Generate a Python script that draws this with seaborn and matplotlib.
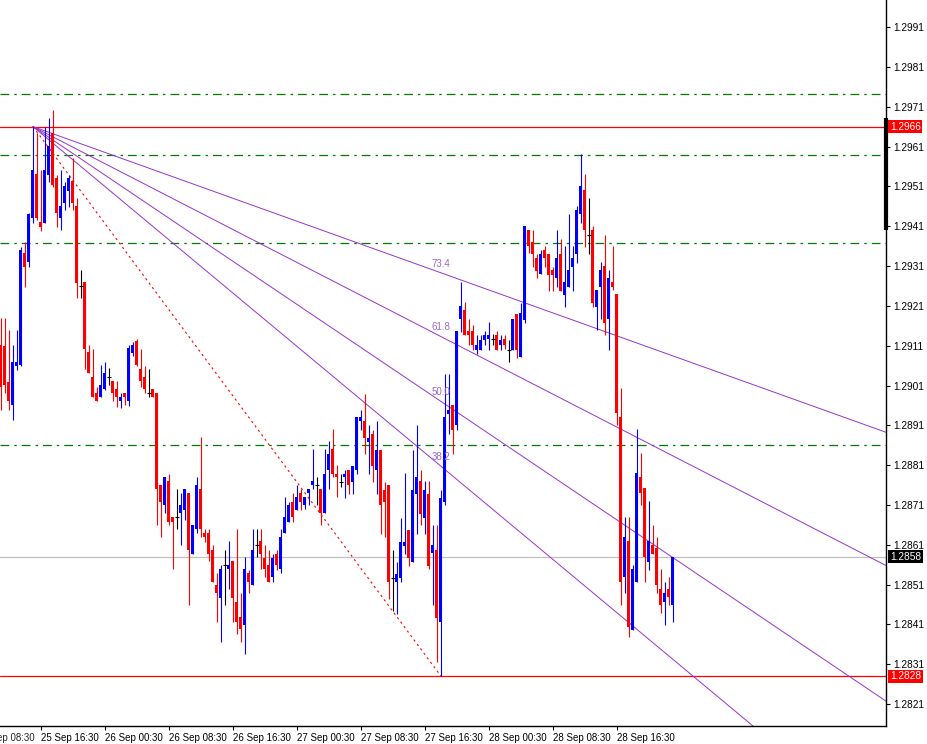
import numpy as np
import pandas as pd
import seaborn as sns
import matplotlib
matplotlib.use('Agg')
import matplotlib.pyplot as plt
import matplotlib.transforms as mtransforms

# prices in pips above 1.2800 (30 min candles, first one 25 Sep 11:30)
BASE = 1.28
PIP = 0.0001

open_p = [111.2, 110.8, 102.0, 96.1, 105.8, 106.2, 134.2, 131.9, 143.0, 154.1,
          142.0, 141.9, 153.9, 164.3, 153.0, 143.0, 146.9, 149.9, 152.4, 146.1,
          126.0, 127.1, 109.3, 103.2, 99.2, 98.0, 100.1, 103.2, 102.2, 100.1,
          97.0, 99.1, 97.0, 109.1, 112.2, 105.1, 103.2, 99.2, 100.1, 99.2,
          76.0, 71.0, 77.0, 67.9, 67.9, 68.9, 69.7, 73.9, 58.8, 64.9,
          74.9, 63.9, 63.9, 59.8, 50.9, 47.7, 55.9, 54.8, 56.9, 46.7,
          42.9, 40.8, 53.8, 50.9, 60.9, 62.0, 57.8, 55.9, 52.8, 58.8,
          54.8, 63.9, 66.8, 71.8, 69.7, 73.9, 71.0, 73.9, 76.0, 76.0,
          74.9, 68.9, 79.9, 85.0, 78.9, 76.8, 77.9, 79.9, 76.8, 79.9,
          92.0, 92.0, 86.8, 88.9, 79.9, 84.9, 74.8, 75.9, 52.7, 51.7,
          52.7, 60.6, 64.8, 56.7, 73.8, 77.0, 67.8, 73.8, 58.9, 59.6,
          41.6, 71.7, 93.9, 96.0, 91.0, 117.8, 119.9, 114.8, 114.8, 109.8,
          109.8, 112.3, 112.7, 112.7, 113.6, 111.1, 112.7, 109.8, 109.8, 119.0,
          108.2, 117.4, 140.0, 137.1, 132.9, 128.9, 135.0, 134.0, 130.0, 127.9,
          134.0, 123.7, 125.8, 130.8, 133.9, 144.0, 150.0, 138.8, 140.0, 120.8,
          125.8, 131.0, 117.8, 126.9, 123.9, 93.0, 52.8, 61.9, 39.6, 51.7,
          78.1, 75.2, 56.7, 60.9, 60.1, 49.8, 46.7, 49.8, 45.9]
high_p = [117.9, 117.9, 115.0, 111.2, 115.0, 135.9, 137.1, 144.2, 166.0, 164.3,
          155.1, 166.0, 168.1, 170.2, 153.9, 155.1, 152.2, 153.9, 158.1, 148.0,
          130.0, 127.1, 111.2, 110.1, 100.7, 106.2, 107.0, 105.3, 102.2, 102.2,
          99.1, 99.1, 111.2, 112.0, 112.6, 110.1, 105.8, 105.1, 100.1, 99.2,
          76.0, 78.1, 78.9, 67.9, 74.9, 73.9, 74.9, 73.9, 65.9, 78.1,
          88.1, 64.9, 64.9, 60.9, 53.8, 55.9, 59.8, 62.0, 56.9, 64.9,
          48.8, 58.0, 54.6, 64.9, 64.9, 64.9, 60.9, 59.8, 58.8, 59.8,
          64.9, 73.1, 71.8, 73.9, 76.0, 74.9, 73.1, 74.9, 85.0, 78.1,
          74.9, 85.0, 87.0, 90.0, 81.0, 78.9, 79.9, 79.9, 80.9, 93.1,
          94.9, 98.9, 91.0, 89.9, 92.0, 84.9, 76.8, 75.9, 59.6, 56.7,
          67.8, 79.0, 64.8, 84.9, 91.0, 79.9, 77.0, 77.0, 65.9, 65.9,
          74.8, 104.0, 104.0, 96.0, 114.8, 127.0, 121.9, 117.8, 116.1, 113.6,
          113.6, 114.8, 116.9, 114.0, 114.8, 113.6, 113.6, 112.3, 117.8, 119.0,
          121.8, 141.0, 140.0, 140.0, 134.0, 135.0, 136.0, 134.0, 130.8, 140.0,
          137.9, 136.0, 144.0, 136.0, 146.0, 159.1, 154.1, 148.0, 141.0, 124.9,
          132.1, 138.9, 130.0, 136.0, 123.9, 100.3, 68.0, 68.0, 55.9, 90.0,
          84.1, 75.2, 72.0, 66.0, 63.0, 54.8, 51.7, 53.0, 58.0]
low_p = [94.9, 99.1, 94.9, 92.4, 104.9, 105.8, 125.8, 130.8, 141.9, 142.6,
         139.9, 141.9, 152.2, 150.9, 140.9, 140.1, 145.1, 145.9, 145.1, 122.9,
         122.9, 105.1, 104.1, 98.0, 97.0, 98.0, 99.9, 101.1, 97.0, 95.7,
         95.3, 96.1, 95.9, 108.3, 105.8, 100.7, 99.1, 98.0, 98.0, 65.9,
         62.9, 68.9, 65.9, 54.8, 64.9, 60.9, 67.2, 45.9, 58.8, 63.9,
         63.0, 61.8, 57.0, 51.7, 41.7, 36.7, 45.9, 49.8, 41.7, 38.7,
         36.7, 33.7, 48.8, 50.9, 58.0, 54.8, 53.0, 51.7, 51.7, 54.6,
         54.0, 63.9, 66.8, 66.8, 69.7, 69.7, 70.1, 71.0, 74.9, 71.0,
         65.9, 68.9, 74.9, 78.1, 73.0, 75.5, 72.8, 73.8, 73.8, 78.9,
         89.9, 83.9, 78.9, 76.8, 73.8, 63.8, 63.0, 47.5, 44.5, 43.7,
         51.7, 58.8, 55.8, 56.7, 63.8, 65.9, 63.8, 54.8, 45.8, 31.6,
         28.0, 70.9, 88.9, 83.9, 89.9, 114.4, 113.6, 111.1, 109.8, 109.0,
         109.8, 111.1, 109.8, 111.1, 109.8, 109.8, 110.2, 106.9, 109.8, 108.0,
         108.2, 116.7, 134.2, 130.8, 127.9, 128.9, 130.8, 124.8, 124.8, 125.8,
         124.8, 120.8, 125.8, 124.8, 131.8, 141.8, 135.8, 133.9, 120.8, 114.9,
         117.8, 113.6, 109.9, 124.9, 91.0, 45.9, 48.8, 37.9, 39.6, 51.7,
         71.0, 51.7, 54.6, 58.8, 48.8, 43.8, 40.8, 45.9, 41.7]
close_p = [100.7, 101.1, 97.0, 107.0, 107.0, 135.0, 130.8, 144.0, 155.1, 143.0,
           140.7, 155.1, 161.2, 151.4, 144.2, 146.1, 151.1, 153.2, 146.9, 126.8,
           126.0, 110.1, 104.1, 98.0, 97.0, 101.1, 104.1, 103.2, 99.1, 98.0,
           98.2, 98.0, 110.4, 111.2, 106.2, 102.2, 100.1, 99.2, 98.0, 74.9,
           71.8, 78.1, 66.8, 66.8, 67.9, 71.0, 74.9, 59.8, 65.9, 76.0,
           64.9, 62.9, 58.8, 51.7, 48.8, 54.8, 55.9, 55.9, 47.7, 41.7,
           39.8, 54.8, 51.7, 59.8, 60.9, 58.8, 54.8, 51.7, 57.8, 55.9,
           62.9, 67.9, 71.0, 67.9, 73.1, 71.8, 73.1, 74.9, 77.0, 76.0,
           68.9, 78.9, 83.9, 78.9, 77.9, 76.8, 78.9, 75.9, 80.9, 93.1,
           93.1, 87.9, 87.9, 80.9, 84.9, 70.9, 71.7, 51.7, 52.7, 53.7,
           61.7, 61.7, 57.8, 74.8, 77.9, 68.8, 74.8, 55.8, 60.9, 42.5,
           72.8, 93.1, 94.9, 89.9, 114.8, 120.9, 113.6, 113.6, 111.1, 111.1,
           112.3, 113.6, 113.6, 112.7, 109.8, 112.3, 111.1, 109.8, 117.8, 109.8,
           119.1, 141.0, 136.0, 133.9, 129.8, 134.0, 132.9, 128.7, 128.7, 132.9,
           124.8, 126.9, 130.0, 132.9, 145.0, 151.1, 140.0, 138.8, 121.8, 124.9,
           130.0, 116.7, 127.9, 125.8, 94.0, 51.7, 63.0, 40.4, 54.8, 79.1,
           73.9, 58.0, 61.9, 58.8, 50.9, 45.9, 48.8, 47.8, 58.0]

time_labels = ["25 Sep 08:30", "25 Sep 16:30", "26 Sep 00:30", "26 Sep 08:30",
               "26 Sep 16:30", "27 Sep 00:30", "27 Sep 08:30", "27 Sep 16:30",
               "28 Sep 00:30", "28 Sep 08:30", "28 Sep 16:30"]

# fibonacci fan: from candle 8 high to candle 110 low
fan_start = (8, 1.2966)
fan_end = (110, 1.2828)
fan_levels = [38.2, 50.0, 61.8, 73.4]
green_levels = [1.29741, 1.29590, 1.29369, 1.28860]
red_levels = [1.2966, 1.2828]
bid = 1.2858

df = pd.DataFrame({'open': BASE + np.array(open_p) * PIP,
                   'high': BASE + np.array(high_p) * PIP,
                   'low': BASE + np.array(low_p) * PIP,
                   'close': BASE + np.array(close_p) * PIP})
df['idx'] = np.arange(len(df))

sns.set_style('white')
plt.rcParams['font.family'] = ['Liberation Sans', 'DejaVu Sans']

fig = plt.figure(figsize=(9.28, 7.44), dpi=100)
ax = fig.add_axes([0, 18 / 744, 886 / 928, 726 / 744])

bull, bear = '#0000FF', '#FF0000'
colors = np.where(df.close > df.open, bull, np.where(df.close < df.open, bear, '#000000'))
ax.vlines(df.idx, df.low, df.high, colors=colors, lw=0.8, zorder=3)
ax.bar(df.idx, (df.close - df.open).abs(), bottom=df[['open', 'close']].min(axis=1),
       width=0.75, color=colors, linewidth=0, zorder=3)
doji = df[df.close == df.open]
ax.hlines(doji.close, doji.idx - 0.45, doji.idx + 0.45, color='black', lw=0.8, zorder=3)

# horizontal levels
for lv in green_levels:
    ax.axhline(lv, color='#007A00', lw=0.9, ls=(0, (7, 4, 2, 4)), zorder=2)
for lv in red_levels:
    ax.axhline(lv, color='#FF0000', lw=0.9, zorder=2)
ax.axhline(bid, color='#C0C0C0', lw=0.9, zorder=1)

# fan rays
x0, p1 = fan_start
x1, p2 = fan_end
rows = []
for lv in fan_levels:
    target = p2 + lv / 100 * (p1 - p2)
    slope = (target - p1) / (x1 - x0)
    rows.append({'level': lv, 'x': x0, 'price': p1})
    rows.append({'level': lv, 'x': 300, 'price': p1 + slope * (300 - x0)})
    ax.annotate(f"{lv:.1f}", (x1, target), xytext=(0, 3), textcoords='offset points',
                ha='center', va='bottom', fontsize=7, color='#9A66D0')
fan_df = pd.DataFrame(rows)
sns.lineplot(data=fan_df, x='x', y='price', units='level', estimator=None,
             color='#9932CC', lw=0.7, legend=False, ax=ax, zorder=2)
ax.plot([x0, x1], [p1, p2], color='#FF0000', lw=0.8, ls=(0, (2, 3)), zorder=2)

ax.set_xlim(-0.25, 221.25)
ax.set_ylim(1.28155, 1.29978)
ax.set_xlabel('')
ax.set_ylabel('')

for side in ['left', 'top']:
    ax.spines[side].set_visible(False)
for side in ['right', 'bottom']:
    ax.spines[side].set_color('black')
    ax.spines[side].set_linewidth(1)

yt = [1.2821 + 0.001 * k for k in range(18)]
ax.yaxis.tick_right()
ax.set_yticks(yt)
ax.set_yticklabels([f"{v:.4f}" for v in yt])
ax.tick_params(axis='y', direction='out', length=3, width=0.8, pad=2,
               labelsize=7.3, colors='black', right=True, left=False)

xt = [-6 + 16 * k for k in range(len(time_labels))]
ax.set_xticks(xt[1:])
ax.set_xticklabels(time_labels[1:], ha='left')
ax.tick_params(axis='x', direction='out', length=3, width=0.8, pad=2,
               labelsize=7, colors='black', bottom=True)
# first label sits left of the plot and is cut by the window edge, as in the terminal
ax.annotate(time_labels[0], (xt[0], 0), xycoords=ax.get_xaxis_transform(),
            xytext=(0, -5), textcoords='offset points', ha='left', va='top',
            fontsize=7, annotation_clip=False)

# price tags on the right axis
trans = mtransforms.blended_transform_factory(ax.transAxes, ax.transData)
for lv, bg in [(red_levels[0], '#FF0000'), (red_levels[1], '#FF0000'), (bid, '#000000')]:
    ax.text(1 + 4 / 886, lv, f"{lv:.4f}", transform=trans, ha='left', va='center',
            fontsize=7.3, color='white', clip_on=False,
            bbox=dict(boxstyle='square,pad=0.15', fc=bg, ec='none'))
ax.plot([1, 1], [1.29682, 1.29400], transform=trans, color='black', lw=3,
        clip_on=False, solid_capstyle='butt')

fig.savefig('out.png', dpi=100)
